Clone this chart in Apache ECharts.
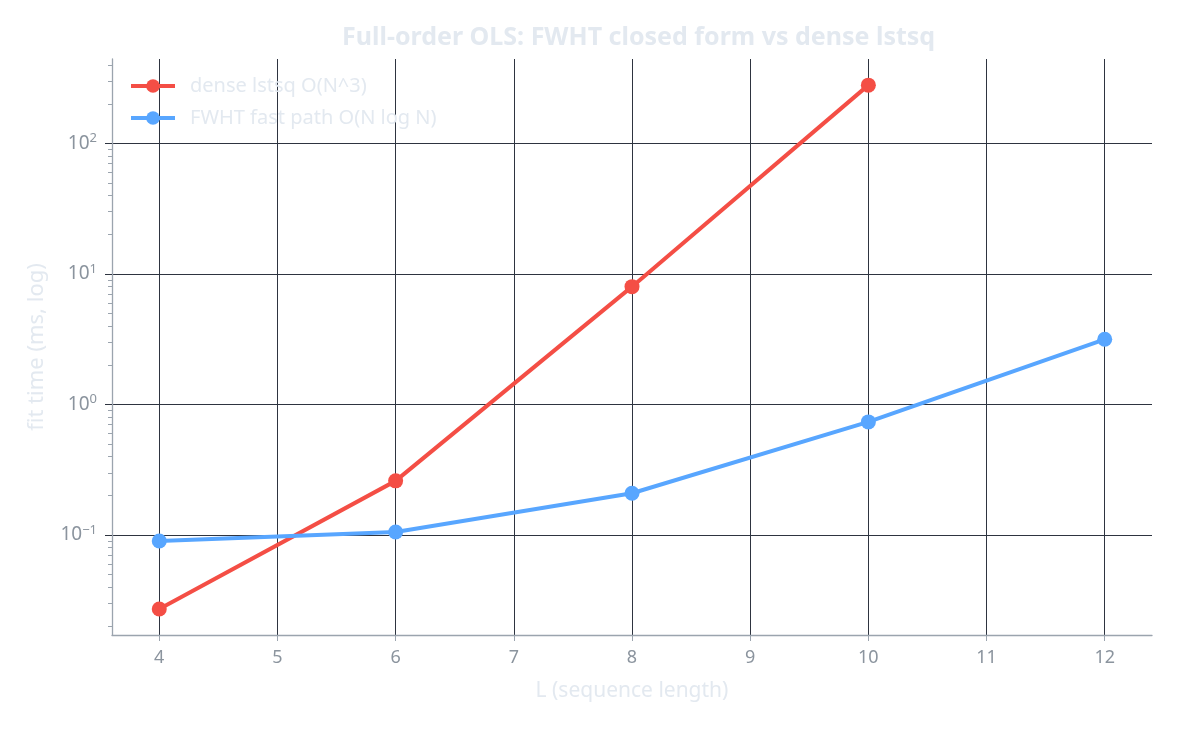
<!DOCTYPE html>
<html>
<head>
<meta charset="utf-8">
<script src="https://cdn.jsdelivr.net/npm/echarts@6/dist/echarts.min.js"></script>
<style>html,body{margin:0;padding:0;background:#fff;}#c{width:1179px;height:729px;}</style>
</head>
<body>
<div id="c"></div>
<script>
const sequenceLength = [4, 6, 8, 10, 12];
const denseLstsq = [0.0271, 0.260, 8.0, 280];
const fwhtFast = [0.090, 0.1054, 0.209, 0.736, 3.16];
const majorTicks = [0.1, 1, 10, 100];
const minorTicks = [0.02,0.03,0.04,0.05,0.06,0.07,0.08,0.09,
  0.2,0.3,0.4,0.5,0.6,0.7,0.8,0.9,
  2,3,4,5,6,7,8,9,
  20,30,40,50,60,70,80,90,
  200,300,400];
const xTicks = [4,5,6,7,8,9,10,11,12];

const Y_MIN = 0.01714, Y_MAX = 444;
const FONT = "'Noto Sans', 'Open Sans', sans-serif";
const GRID_C = '#2e3440';
const AXIS_C = '#9ba4ae';
const LABEL_C = '#8b949e';
const LIGHT_C = '#e3e9f0';

const chart = echarts.init(document.getElementById('c'), null, {renderer: 'canvas'});
chart.setOption({
  backgroundColor: '#ffffff',
  animation: false,
  textStyle: {fontFamily: FONT},
  title: {
    text: 'Full-order OLS: FWHT closed form vs dense lstsq',
    left: 337, top: 20,
    textStyle: {color: LIGHT_C, fontSize: 25, fontWeight: 'bold', fontFamily: FONT}
  },
  legend: {
    left: 124, top: 71, orient: 'vertical', itemGap: 12,
    itemWidth: 44, itemHeight: 17,
    lineStyle: {width: 4},
    textStyle: {color: LIGHT_C, fontSize: 20, fontFamily: FONT, padding: [0,0,0,10]},
    data: ['dense lstsq O(N^3)', 'FWHT fast path O(N log N)']
  },
  grid: {left: 112, right: 27, top: 59, bottom: 94, containLabel: false},
  xAxis: {
    type: 'value', min: 3.6, max: 12.4,
    name: 'L (sequence length)', nameLocation: 'middle', nameGap: 46,
    nameTextStyle: {color: LIGHT_C, fontSize: 21, fontFamily: FONT},
    axisLine: {show: true, onZero: false, lineStyle: {color: AXIS_C, width: 1.3}},
    axisTick: {show: true, inside: false, length: 6, lineStyle: {color: AXIS_C}, customValues: xTicks},
    axisLabel: {color: LABEL_C, fontSize: 18, margin: 14, customValues: xTicks, fontFamily: FONT},
    splitLine: {show: true, showMinLine: true, showMaxLine: true, lineStyle: {color: GRID_C, width: 1}},
    interval: 1
  },
  yAxis: [{
    type: 'log', logBase: 10, min: Y_MIN, max: Y_MAX,
    name: 'fit time (ms, log)', nameLocation: 'middle', nameGap: 64,
    nameTextStyle: {color: LIGHT_C, fontSize: 22, fontFamily: FONT},
    axisLine: {show: true, lineStyle: {color: AXIS_C, width: 1.3}},
    axisTick: {show: true, inside: false, length: 7, lineStyle: {color: GRID_C}, customValues: majorTicks},
    axisLabel: {
      customValues: majorTicks, margin: 15, showMinLabel: true, showMaxLabel: true,
      formatter: function (v) {
        const e = Math.round(Math.log10(v));
        const s = e < 0 ? '\u2212' + Math.abs(e) : String(e);
        return '{b|10}{s|' + s + '}';
      },
      rich: {
        b: {color: LABEL_C, fontSize: 19, fontFamily: FONT},
        s: {color: LABEL_C, fontSize: 13, fontFamily: FONT, padding: [0, 0, 10, 0]}
      }
    },
    splitLine: {show: true, showMinLine: true, showMaxLine: true, lineStyle: {color: GRID_C, width: 1}}
  }, {
    type: 'log', logBase: 10, min: Y_MIN, max: Y_MAX, position: 'left',
    axisLine: {show: false},
    axisLabel: {show: false},
    splitLine: {show: false},
    axisTick: {show: true, inside: false, length: 4, lineStyle: {color: AXIS_C}, customValues: minorTicks}
  }],
  series: [{
    name: 'dense lstsq O(N^3)', type: 'line', yAxisIndex: 0,
    data: denseLstsq.map((v, i) => [sequenceLength[i], v]),
    symbol: 'circle', symbolSize: 15,
    lineStyle: {color: '#f44e45', width: 4},
    itemStyle: {color: '#f44e45'}
  }, {
    name: 'FWHT fast path O(N log N)', type: 'line', yAxisIndex: 0,
    data: fwhtFast.map((v, i) => [sequenceLength[i], v]),
    symbol: 'circle', symbolSize: 15,
    lineStyle: {color: '#58a6ff', width: 4},
    itemStyle: {color: '#58a6ff'}
  }]
});
</script>
</body>
</html>
